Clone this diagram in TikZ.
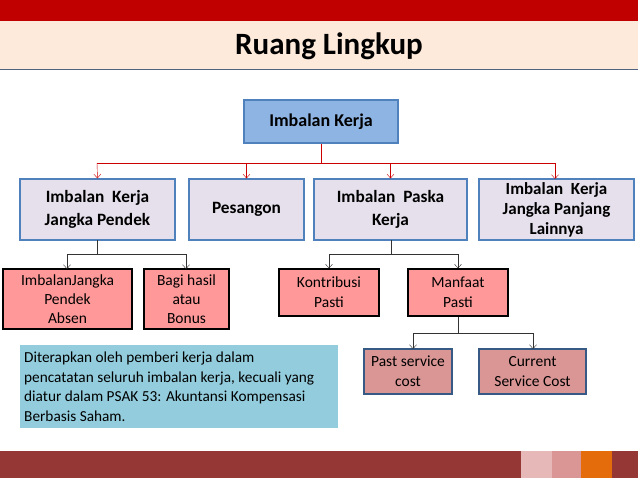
\documentclass[tikz,border=0pt]{standalone}
\usepackage{fontspec}
\setmainfont{Carlito}
\usetikzlibrary{arrows.meta}
\begin{document}
\begin{tikzpicture}[x=1pt,y=-1pt,
  bx/.style={draw=#1,line width=1.2pt,align=center,inner sep=0pt},
  redarr/.style={draw=red!80!black,-{Straight Barb[length=4pt,width=7pt]}},
  blkarr/.style={draw=black!80,-{Straight Barb[length=4pt,width=7pt]}}]
\useasboundingbox (0,0) rectangle (638,479);
\fill[fill={rgb,255:red,192;green,0;blue,0}] (0,0) rectangle (638,21);
\fill[fill={rgb,255:red,253;green,234;blue,218}] (0,21) rectangle (638,69);
\draw[color={rgb,255:red,79;green,98;blue,128},line width=0.8pt] (0,69) -- (638,69);
\node[font=\fontsize{31}{34}\bfseries\selectfont] (title) at (329,46) {Ruang Lingkup};
\definecolor{bdr}{RGB}{79,129,189}
\definecolor{lav}{RGB}{230,224,236}
\definecolor{pink}{RGB}{255,153,153}
\definecolor{rose}{RGB}{217,150,148}
\node[bx=bdr,fill={rgb,255:red,142;green,180;blue,227},minimum width=154pt,minimum height=43pt,font=\fontsize{18}{20}\bfseries\selectfont] (top) at (321,121.5) {Imbalan Kerja};
\node[bx=bdr,fill=lav,minimum width=155pt,minimum height=61pt,font=\fontsize{17.3}{23}\bfseries\selectfont] (a) at (97.5,209.5) {Imbalan~ Kerja\\Jangka Pendek};
\node[bx=bdr,fill=lav,minimum width=115pt,minimum height=61pt,font=\fontsize{17.3}{23}\bfseries\selectfont] (b) at (246.5,209.5) {Pesangon};
\node[bx=bdr,fill=lav,minimum width=153pt,minimum height=61pt,font=\fontsize{17.3}{23}\bfseries\selectfont] (c) at (390.5,209.5) {Imbalan~ Paska\\Kerja};
\node[bx=bdr,fill=lav,minimum width=155pt,minimum height=61pt,font=\fontsize{17}{20}\bfseries\selectfont] (d) at (556.5,209.5) {Imbalan~ Kerja\\Jangka Panjang\\Lainnya};
\coordinate (tj) at (321,163);
\draw[red!80!black] (top.south) -- (tj);
\draw[red!80!black] (97,163) -- (555,163);
\draw[redarr] (97,163) -- (a.north);
\draw[redarr] (246.5,163) -- (b.north);
\draw[redarr] (390.5,163) -- (c.north);
\draw[redarr] (555,163) -- (555,179);
\node[bx=black,fill=pink,minimum width=129pt,minimum height=60pt,font=\fontsize{15.5}{19}\selectfont] (e) at (67.5,299) {ImbalanJangka\\Pendek\\Absen};
\node[bx=black,fill=pink,minimum width=85pt,minimum height=60pt,font=\fontsize{15.5}{19}\selectfont] (f) at (186.5,299) {Bagi hasil\\atau\\Bonus};
\draw[black!80] (97,240) -- (97,254);
\draw[black!80] (67,254) -- (186,254);
\draw[blkarr] (67,254) -- (67,269);
\draw[blkarr] (186,254) -- (186,269);
\node[bx=black,fill=pink,minimum width=100pt,minimum height=47pt,font=\fontsize{15.5}{20}\selectfont] (g) at (329,292.5) {Kontribusi\\Pasti};
\node[bx=black,fill=pink,minimum width=100pt,minimum height=47pt,font=\fontsize{15.5}{20}\selectfont] (h) at (458,292.5) {Manfaat\\Pasti};
\draw[black!80] (391,240) -- (391,254);
\draw[black!80] (329,254) -- (458,254);
\draw[blkarr] (329,254) -- (g.north);
\draw[blkarr] (458,254) -- (h.north);
\node[bx=bdr!70!black,fill=rose,minimum width=88pt,minimum height=45pt,font=\fontsize{15.5}{20}\selectfont] (i) at (408,371.5) {Past service\\cost};
\node[bx=bdr!70!black,fill=rose,minimum width=107pt,minimum height=45pt,font=\fontsize{15.5}{20}\selectfont] (j) at (532.5,371.5) {Current\\Service Cost};
\draw[black!80] (h.south) -- (458,333);
\draw[black!80] (413,333) -- (533,333);
\draw[blkarr] (413,333) -- (413,349);
\draw[blkarr] (533,333) -- (533,349);
\fill[fill={rgb,255:red,147;green,205;blue,221}] (20,345) rectangle (338,428);
\node[align=left,inner sep=0pt,font=\fontsize{15.3}{19.5}\selectfont,anchor=west] (note) at (24,386.5) {Diterapkan oleh pemberi kerja dalam\\pencatatan seluruh imbalan kerja, kecuali yang\\diatur dalam PSAK 53: Akuntansi Kompensasi\\Berbasis Saham.};
\fill[fill={rgb,255:red,149;green,55;blue,53}] (0,451) rectangle (638,478);
\fill[fill={rgb,255:red,230;green,185;blue,184}] (521,451) rectangle (552,478);
\fill[fill={rgb,255:red,217;green,150;blue,148}] (552,451) rectangle (581,478);
\fill[fill={rgb,255:red,228;green,108;blue,10}] (581,451) rectangle (612,478);
\end{tikzpicture}
\end{document}
